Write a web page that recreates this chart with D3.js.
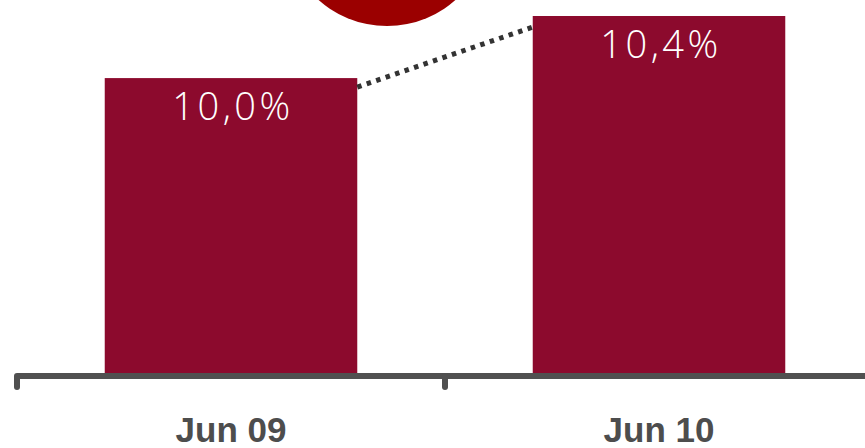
<!DOCTYPE html>
<html>
<head>
<meta charset="utf-8">
<script src="https://cdn.jsdelivr.net/npm/d3@7"></script>
<style>
  body { margin: 0; background: #fff; }
  svg { display: block; }
</style>
</head>
<body>
<svg id="chart" width="865" height="448"></svg>
<script>
const categories = ['Jun 09', 'Jun 10'];
const values = [10.0, 10.4];
const valueLabels = ['10,0%', '10,4%'];

const svg = d3.select('#chart');
const width = 865, baseY = 373;

const x = d3.scaleBand()
  .domain(categories)
  .range([17, 873])
  .paddingInner(0.41)
  .paddingOuter(0.205);

// truncated value axis, like the original slide
const y = d3.scaleLinear()
  .domain([8.1, 10.4])
  .range([baseY, 16]);

// red circle peeking from the top
svg.append('circle')
  .attr('cx', 387)
  .attr('cy', -77)
  .attr('r', 103)
  .attr('fill', '#9b0000');

svg.selectAll('rect.bar')
  .data(values)
  .enter()
  .append('rect')
  .attr('class', 'bar')
  .attr('x', (d, i) => x(categories[i]))
  .attr('y', d => y(d))
  .attr('width', x.bandwidth())
  .attr('height', d => baseY - y(d))
  .attr('fill', '#8c0a2d');

// dotted connector between the two bar tops
svg.append('line')
  .attr('x1', x(categories[0]) + x.bandwidth())
  .attr('y1', y(values[0]) + 9)
  .attr('x2', x(categories[1]))
  .attr('y2', y(values[1]) + 11)
  .attr('stroke', '#333333')
  .attr('stroke-width', 5)
  .attr('stroke-dasharray', '4.5,5.5');

svg.selectAll('text.val')
  .data(values)
  .enter()
  .append('text')
  .attr('class', 'val')
  .attr('x', (d, i) => x(categories[i]) + x.bandwidth() / 2 + 2)
  .attr('y', d => y(d) + 42)
  .attr('text-anchor', 'middle')
  .attr('fill', '#ffffff')
  .style('font-family', '"Open Sans", sans-serif')
  .style('font-weight', 300)
  .style('font-size', '38px')
  .style('letter-spacing', '3.5px')
  .text((d, i) => valueLabels[i]);

// axis
svg.append('line')
  .attr('x1', 17).attr('x2', width)
  .attr('y1', baseY + 3).attr('y2', baseY + 3)
  .attr('stroke', '#505050')
  .attr('stroke-width', 6);

svg.selectAll('line.tick')
  .data(categories)
  .enter()
  .append('line')
  .attr('class', 'tick')
  .attr('x1', d => x(d) - x.step() * 0.205)
  .attr('x2', d => x(d) - x.step() * 0.205)
  .attr('y1', baseY + 3)
  .attr('y2', 387)
  .attr('stroke', '#505050')
  .attr('stroke-width', 6)
  .attr('stroke-linecap', 'round');

svg.selectAll('text.cat')
  .data(categories)
  .enter()
  .append('text')
  .attr('class', 'cat')
  .attr('x', d => x(d) + x.bandwidth() / 2)
  .attr('y', 442)
  .attr('text-anchor', 'middle')
  .attr('fill', '#4d4d4d')
  .style('font-family', '"Liberation Sans", Arial, sans-serif')
  .style('font-weight', 'bold')
  .style('font-size', '35px')
  .text(d => d);
</script>
</body>
</html>
